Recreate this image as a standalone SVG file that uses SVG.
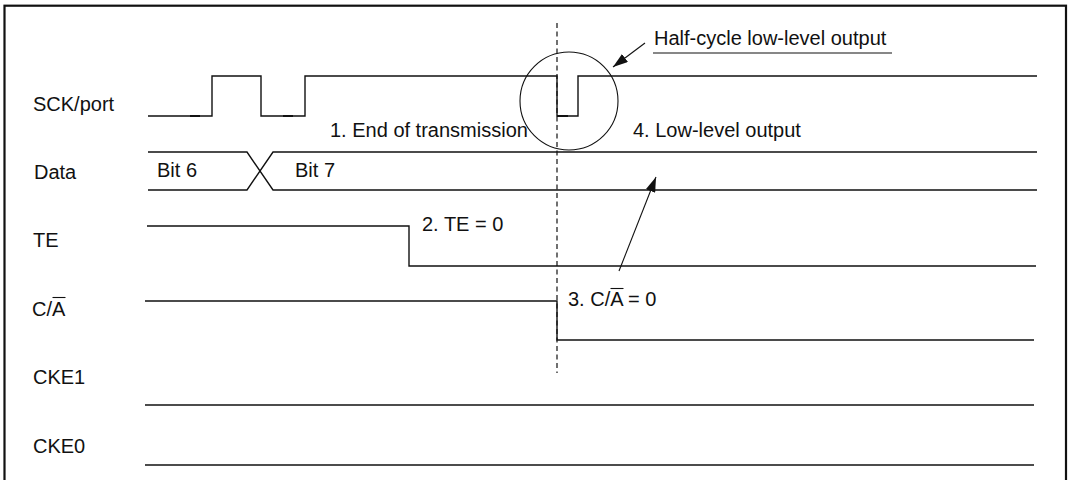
<svg xmlns="http://www.w3.org/2000/svg" width="1072" height="480" viewBox="0 0 1072 480">
<style>
text{font-family:"Liberation Sans",Arial,sans-serif;font-size:20px;fill:#111}
.w{fill:none;stroke:#111;stroke-width:1.4}
.thin{fill:none;stroke:#111;stroke-width:1.1}
.dash{fill:none;stroke:#111;stroke-width:1.2;stroke-dasharray:5 3.5}
</style>
<defs>
<marker id="ah" markerUnits="userSpaceOnUse" markerWidth="16" markerHeight="10" refX="15" refY="5" orient="auto">
<path d="M0,0 L15,5 L0,10 z" fill="#111"/>
</marker>
</defs>
<rect x="4.5" y="5.7" width="1061.5" height="480" fill="#fff" stroke="#111" stroke-width="2.2"/>
<g id="labels">
<text x="33" y="111">SCK/port</text>
<text x="34" y="179">Data</text>
<text x="33" y="247">TE</text>
<text x="32" y="316">C/A</text>
<line x1="52.5" y1="297.5" x2="65.5" y2="297.5" class="thin"/>
<text x="33" y="384">CKE1</text>
<text x="33" y="453">CKE0</text>
</g>
<g id="sck">
<polyline class="w" points="148,116 212,116 212,76 261,76 261,116 305,116 305,76 557,76 557,116 578,116 578,76 1037,76"/>
<line x1="190" y1="116" x2="200" y2="116" stroke="#111" stroke-width="2"/>
<line x1="283" y1="116" x2="293" y2="116" stroke="#111" stroke-width="2"/>
<line x1="557" y1="116" x2="568" y2="116" stroke="#111" stroke-width="2"/>
</g>
<g id="data">
<polyline class="w" points="148,152 247,152 273,190 1037,190"/>
<polyline class="w" points="148,190 247,190 273,152 1037,152"/>
<text x="157" y="177">Bit 6</text>
<text x="295" y="177">Bit 7</text>
</g>
<g id="te">
<polyline class="w" points="147,226 409,226 409,266 1036,266"/>
</g>
<g id="ca">
<polyline class="w" points="145,301 557,301 557,340 1034,340"/>
</g>
<g id="cke1">
<line class="w" x1="145" y1="405" x2="1034" y2="405"/>
</g>
<g id="cke0">
<line class="w" x1="145" y1="465" x2="1034" y2="465"/>
</g>
<g id="marker-line">
<line class="dash" x1="557" y1="23" x2="557" y2="373"/>
<circle cx="569" cy="101" r="49" class="thin"/>
</g>
<g id="annotations">
<text x="330" y="137">1. End of transmission</text>
<text x="422" y="231">2. TE = 0</text>
<text x="568" y="306">3. C/A = 0</text>
<line x1="610.5" y1="288.5" x2="623.5" y2="288.5" class="thin"/>
<text x="633" y="137">4. Low-level output</text>
<text x="654" y="45">Half-cycle low-level output</text>
<line x1="653" y1="53" x2="892" y2="53" class="thin"/>
</g>
<g id="connectors">
<line class="thin" x1="645" y1="43" x2="613" y2="67" marker-end="url(#ah)"/>
<line class="thin" x1="619" y1="271" x2="656" y2="177" marker-end="url(#ah)"/>
</g>
</svg>
